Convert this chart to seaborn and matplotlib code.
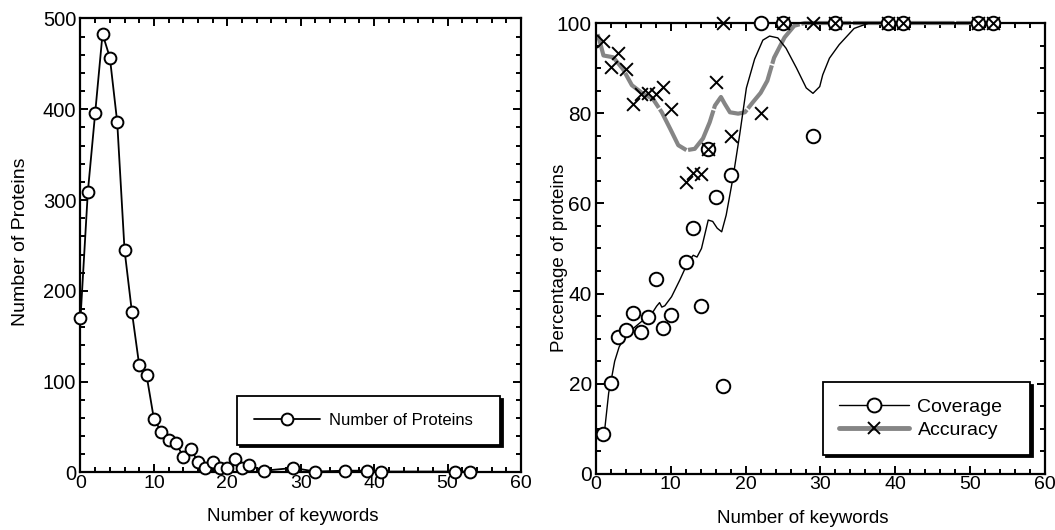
import matplotlib
matplotlib.use("Agg")
import matplotlib.pyplot as plt
from matplotlib.ticker import MultipleLocator
from matplotlib.lines import Line2D
import seaborn as sns
import pandas as pd

# left panel: proteins per keyword count
kw_counts = [0, 1, 2, 3, 4, 5, 6, 7, 8, 9, 10, 11, 12, 13, 14, 15, 16, 17, 18, 19,
             20, 21, 22, 23, 25, 29, 32, 36, 39, 41, 51, 53]
n_proteins = [170, 309, 396, 483, 457, 386, 245, 177, 118, 107, 59, 45, 36, 33, 17, 26,
              12, 5, 12, 5, 5, 15, 5, 8, 2, 5, 1, 2, 2, 1, 1, 1]

# right panel: scatter points
cov_x = [1, 2, 3, 4, 5, 6, 7, 8, 9, 10, 12, 13, 14, 15, 16, 17, 18, 22, 25, 29,
         32, 39, 41, 51, 53]
cov_y = [8.8, 20.1, 30.4, 31.9, 35.6, 31.4, 34.7, 43.3, 32.4, 35.2, 47.0, 54.6, 37.2,
         72.0, 61.4, 19.6, 66.4, 100, 100, 75, 100, 100, 100, 100, 100]
acc_x = [1, 2, 3, 4, 5, 6, 7, 8, 9, 10, 12, 13, 14, 15, 16, 17, 18, 22, 25, 29,
         32, 39, 41, 51, 53]
acc_y = [96.1, 90.2, 93.4, 89.8, 82.0, 84.3, 84.5, 84.2, 85.8, 81.0, 64.7, 66.8, 66.6,
         72.0, 87.0, 100, 75.0, 80.1, 100, 100, 100, 100, 100, 100, 100]

# right panel: smoothed curves
cov_fit_x = [1.1, 1.4, 1.7, 2.0, 2.5, 3.1, 3.9, 5.0, 6.3, 7.6, 8.1, 8.5, 8.8, 9.2, 10.1,
             11.2, 12.3, 13.0, 13.5, 14.1, 14.6, 15.0, 15.6, 16.2, 16.8, 17.4, 18.3, 19.2,
             20.1, 21.2, 22.3, 23.2, 24.3, 25.4, 26.8, 28.1, 29.0, 29.9, 30.3, 31.2, 32.5,
             34.5, 36.5, 53]
cov_fit_y = [8.8, 13.4, 18, 20.5, 25, 28.2, 30.4, 32.3, 34.1, 35.9, 37.2, 38.0, 37.0, 37.3,
             39.3, 43, 47, 48.5, 48.1, 50, 53.5, 56.3, 56, 54.5, 53.7, 57.4, 65.6, 75.2,
             85.6, 92, 96.2, 97.1, 96.7, 94.4, 90, 85.6, 84.4, 85.9, 88.5, 92.2, 95.2,
             98.8, 100, 100]
acc_fit_x = [0.2, 0.5, 1.0, 2.3, 3.6, 4.8, 6.3, 7.6, 8.8, 9.9, 11.0, 12.1, 13.2, 14.3,
             15.2, 15.9, 16.7, 17.2, 17.9, 19.0, 19.9, 21.0, 22.0, 22.9, 23.8, 25.2, 26.5,
             27.9, 53]
acc_fit_y = [97.5, 96, 92.8, 92.4, 89.8, 86.2, 84.3, 83.2, 80.2, 76.6, 72.9, 71.8, 72.1,
             74.4, 78, 81.7, 83.6, 82.1, 80.2, 79.9, 80.2, 82.5, 84.5, 87.2, 92.3, 96.8,
             99.4, 100, 100]

sns.set_theme(style="ticks")
plt.rcParams["font.family"] = ["Liberation Sans", "DejaVu Sans"]
plt.rcParams["axes.linewidth"] = 1.5
plt.rcParams["text.color"] = "black"
plt.rcParams["axes.labelcolor"] = "black"

GRAY = "#858585"

fig = plt.figure(figsize=(10.55, 5.30), dpi=100)
ax1 = fig.add_axes([0.0763, 0.1085, 0.4175, 0.8566])
ax2 = fig.add_axes([0.5649, 0.1057, 0.4256, 0.8509])

# ---- left panel
left_df = pd.DataFrame({"keywords": kw_counts, "proteins": n_proteins})
sns.lineplot(data=left_df, x="keywords", y="proteins", ax=ax1, color="black", lw=1.3,
             marker="o", markersize=8.5, markerfacecolor="white", markeredgecolor="black",
             markeredgewidth=1.4, clip_on=False, label="Number of Proteins", zorder=5)
ax1.set_xlim(0, 60)
ax1.set_ylim(0, 500)
ax1.xaxis.set_major_locator(MultipleLocator(10))
ax1.xaxis.set_minor_locator(MultipleLocator(2))
ax1.yaxis.set_major_locator(MultipleLocator(100))
ax1.yaxis.set_minor_locator(MultipleLocator(20))
ax1.set_xlabel("Number of keywords", fontsize=13.5)
ax1.set_ylabel("Number of Proteins", fontsize=14)
ax1.xaxis.set_label_coords(0.482, -0.079)
ax1.yaxis.set_label_coords(-0.118, 0.509)
leg1 = ax1.legend(loc="center", bbox_to_anchor=(0.355, 0.065, 0.597, 0.099), mode="expand",
                  borderaxespad=0, fontsize=12, handlelength=4.0, handletextpad=0.5,
                  borderpad=1.0, fancybox=False, edgecolor="black", framealpha=1,
                  shadow={"color": "black", "alpha": 1})
leg1.get_frame().set_linewidth(1.3)

# ---- right panel
sns.lineplot(x=acc_fit_x, y=acc_fit_y, ax=ax2, color=GRAY, lw=3.0,
             linestyle=(0, (12, 0.4)), clip_on=False, zorder=2)
sns.lineplot(x=cov_fit_x, y=cov_fit_y, ax=ax2, color="black", lw=1.0, clip_on=False,
             zorder=3)
sns.scatterplot(x=cov_x, y=cov_y, ax=ax2, marker="o", s=95, facecolor="white",
                edgecolor="black", linewidth=1.4, clip_on=False, zorder=4)
sns.scatterplot(x=acc_x, y=acc_y, ax=ax2, marker="x", s=85, color="black",
                linewidth=1.4, clip_on=False, zorder=5)
ax2.set_xlim(0, 60)
ax2.set_ylim(0, 100)
ax2.xaxis.set_major_locator(MultipleLocator(10))
ax2.xaxis.set_minor_locator(MultipleLocator(2))
ax2.yaxis.set_major_locator(MultipleLocator(20))
ax2.yaxis.set_minor_locator(MultipleLocator(5))
ax2.set_xlabel("Number of keywords", fontsize=13.5)
ax2.set_ylabel("Percentage of proteins", fontsize=13.5)
ax2.xaxis.set_label_coords(0.46, -0.079)
ax2.yaxis.set_label_coords(-0.062, 0.479)

handles = [
    Line2D([], [], color="black", lw=1.0, marker="o", markersize=10,
           markerfacecolor="white", markeredgecolor="black", markeredgewidth=1.4),
    Line2D([], [], color=GRAY, lw=3.5, marker="x", markersize=9,
           markeredgecolor="black", markeredgewidth=1.4),
]
leg2 = ax2.legend(handles, ["Coverage", "Accuracy"], loc="center",
                  bbox_to_anchor=(0.506, 0.042, 0.461, 0.162), mode="expand",
                  borderaxespad=0, fontsize=14, handlelength=3.6, handletextpad=0.45,
                  labelspacing=0.3, borderpad=0.8, fancybox=False, edgecolor="black",
                  framealpha=1, shadow={"color": "black", "alpha": 1})
leg2.get_frame().set_linewidth(1.3)

for ax, ysize in ((ax1, 14.5), (ax2, 15)):
    ax.tick_params(which="both", direction="in", top=True, right=True, colors="black",
                   width=1.4)
    ax.tick_params(axis="x", labelsize=14)
    ax.tick_params(axis="y", labelsize=ysize)
    ax.tick_params(which="major", length=6)
    ax.tick_params(which="minor", length=3.5)
    ax.tick_params(axis="x", which="major", pad=1.5)
    ax.tick_params(axis="y", which="major", pad=3)
    for sp in ax.spines.values():
        sp.set_color("black")
        sp.set_linewidth(1.6)

fig.savefig("out.png", dpi=100)
